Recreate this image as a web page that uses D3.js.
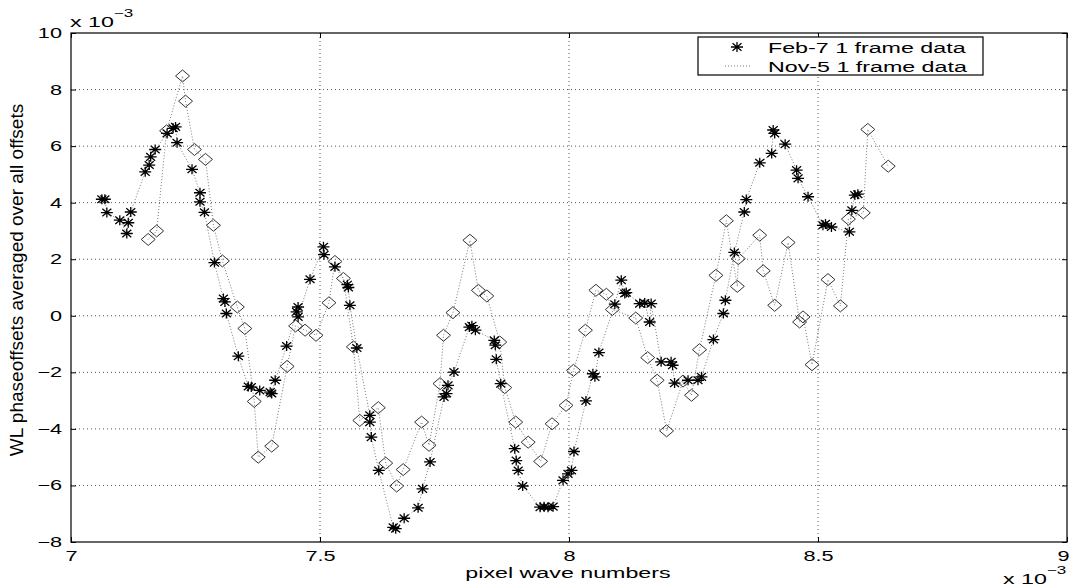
<!DOCTYPE html>
<html>
<head>
<meta charset="utf-8">
<script src="https://cdn.jsdelivr.net/npm/d3@7"></script>
<style>
    body { margin: 0; background: #fff; }
    svg { display: block; font-family: "Liberation Sans", Arial, sans-serif; }
</style>
</head>
<body>
<div id="chart"></div>
<script>
var xTicks = [7, 7.5, 8, 8.5, 9];
var yTicks = [-8, -6, -4, -2, 0, 2, 4, 6, 8, 10];
var seriesNames = ["Feb-7 1 frame data", "Nov-5 1 frame data"];

// Feb-7 (asterisks), x and y both in units of 1e-3
var febX = [7.062, 7.068, 7.072, 7.098, 7.112, 7.115, 7.120, 7.149, 7.157, 7.160,
    7.169, 7.193, 7.205, 7.210, 7.213, 7.243, 7.259, 7.259, 7.268, 7.288,
    7.306, 7.309, 7.312, 7.336, 7.356, 7.362, 7.379, 7.400, 7.403, 7.410,
    7.433, 7.453, 7.456, 7.456, 7.480, 7.507, 7.508, 7.530, 7.555, 7.557,
    7.560, 7.574, 7.600, 7.600, 7.603, 7.618, 7.647, 7.652, 7.669, 7.697,
    7.706, 7.721, 7.749, 7.754, 7.757, 7.769, 7.800, 7.805, 7.812, 7.850,
    7.852, 7.854, 7.863, 7.891, 7.894, 7.898, 7.907, 7.942, 7.950, 7.958,
    7.968, 7.988, 7.998, 8.005, 8.010, 8.034, 8.048, 8.052, 8.060, 8.092,
    8.105, 8.112, 8.115, 8.142, 8.152, 8.162, 8.165, 8.185, 8.205, 8.208,
    8.212, 8.239, 8.259, 8.266, 8.290, 8.310, 8.314, 8.332, 8.352, 8.356,
    8.383, 8.407, 8.410, 8.413, 8.434, 8.457, 8.460, 8.480, 8.510, 8.515,
    8.527, 8.563, 8.568, 8.574, 8.580];
var febY = [4.12, 4.12, 3.65, 3.38, 2.91, 3.29, 3.67, 5.09, 5.33, 5.62,
    5.88, 6.45, 6.63, 6.68, 6.12, 5.18, 4.35, 4.03, 3.66, 1.88,
    0.61, 0.49, 0.08, -1.43, -2.50, -2.52, -2.64, -2.70, -2.75, -2.28,
    -1.07, 0.14, 0.31, -0.04, 1.29, 2.44, 2.16, 1.73, 1.10, 1.00,
    0.37, -1.14, -3.52, -3.76, -4.29, -5.47, -7.48, -7.53, -7.16, -6.79,
    -6.12, -5.17, -2.87, -2.75, -2.46, -1.99, -0.40, -0.35, -0.51, -0.87,
    -1.04, -1.54, -2.40, -4.70, -5.12, -5.47, -6.02, -6.77, -6.75, -6.77,
    -6.75, -5.82, -5.59, -5.47, -4.80, -3.01, -2.05, -2.16, -1.30, 0.41,
    1.26, 0.79, 0.82, 0.43, 0.45, -0.22, 0.43, -1.63, -1.63, -1.75,
    -2.38, -2.28, -2.28, -2.16, -0.84, 0.08, 0.55, 2.24, 3.67, 4.11,
    5.41, 5.74, 6.57, 6.45, 6.07, 5.15, 4.86, 4.21, 3.20, 3.25,
    3.14, 2.97, 3.73, 4.27, 4.30];

// Nov-5 (diamonds)
var novX = [7.155, 7.172, 7.192, 7.224, 7.230, 7.248, 7.270, 7.286, 7.304, 7.334,
    7.349, 7.368, 7.376, 7.403, 7.434, 7.451, 7.470, 7.492, 7.518, 7.530,
    7.547, 7.567, 7.580, 7.617, 7.632, 7.654, 7.667, 7.704, 7.719, 7.741,
    7.748, 7.767, 7.801, 7.818, 7.835, 7.861, 7.871, 7.893, 7.918, 7.943,
    7.966, 7.994, 8.009, 8.033, 8.054, 8.075, 8.087, 8.134, 8.158, 8.177,
    8.196, 8.229, 8.246, 8.262, 8.295, 8.316, 8.338, 8.340, 8.383, 8.390,
    8.413, 8.440, 8.463, 8.470, 8.488, 8.520, 8.545, 8.561, 8.591, 8.600,
    8.641];
var novY = [2.70, 3.00, 6.54, 8.48, 7.59, 5.88, 5.53, 3.20, 1.94, 0.31,
    -0.45, -3.03, -5.00, -4.61, -1.79, -0.36, -0.51, -0.69, 0.46, 1.92,
    1.32, -1.10, -3.70, -3.25, -5.21, -6.02, -5.44, -3.76, -4.58, -2.40,
    -0.69, 0.11, 2.67, 0.90, 0.70, -0.93, -2.54, -3.76, -4.47, -5.15,
    -3.82, -3.17, -1.93, -0.51, 0.90, 0.76, 0.22, -0.08, -1.48, -2.28,
    -4.07, -2.31, -2.81, -1.20, 1.43, 3.36, 1.04, 2.02, 2.85, 1.59,
    0.37, 2.59, -0.22, -0.04, -1.73, 1.28, 0.35, 3.42, 3.64, 6.59,
    5.29];

var margin = { top: 33, right: 3, bottom: 46, left: 71 },
    width = 1070 - margin.left - margin.right,
    height = 588 - margin.top - margin.bottom;

//  the scanned figure was stretched sideways, so most text gets the same squash
var stretch = 1.55;

var starPath = "M-6,0H6M0,-5V5M-4.5,-3.8L4.5,3.8M-4.5,3.8L4.5,-3.8";
var diamondPath = "M0,-6L7,0L0,6L-7,0Z";

var xScale = d3.scaleLinear().domain([7, 9]).range([0, width]);
var yScale = d3.scaleLinear().domain([-8, 10]).range([height, 0]);

var svg = d3.select("#chart")
    .append("svg")
    .attr("width", width + margin.left + margin.right)
    .attr("height", height + margin.top + margin.bottom);

var plot = svg.append("g").attr("transform", "translate(" + margin.left + "," + margin.top + ")");

//  dotted grid
var grid = plot.append("g")
    .attr("stroke", "#555")
    .attr("stroke-width", 1)
    .attr("stroke-dasharray", "1,3");

grid.selectAll(".vgrid")
    .data(xTicks.slice(1, -1))
    .enter()
    .append("line")
    .attr("x1", function (d) { return xScale(d); })
    .attr("x2", function (d) { return xScale(d); })
    .attr("y1", 0)
    .attr("y2", height);

grid.selectAll(".hgrid")
    .data(yTicks.slice(1, -1))
    .enter()
    .append("line")
    .attr("x1", 0)
    .attr("x2", width)
    .attr("y1", function (d) { return yScale(d); })
    .attr("y2", function (d) { return yScale(d); });

//  axes, ticks point inward like matlab
var xAxis = d3.axisBottom(xScale).tickValues(xTicks).tickFormat(d3.format(""))
    .tickSize(-5).tickSizeOuter(0).tickPadding(9);
var yAxis = d3.axisLeft(yScale).tickValues(yTicks).tickFormat(d3.format(""))
    .tickSize(-5).tickSizeOuter(0).tickPadding(9);

var gx = plot.append("g")
    .attr("transform", "translate(0," + height + ")")
    .call(xAxis);
gx.selectAll("text")
    .attr("transform", "scale(" + stretch + ",1)");

//  the last label sits on the page edge, keep it inside
gx.selectAll(".tick")
    .filter(function (d) { return d === 9; })
    .select("text")
    .attr("text-anchor", "end")
    .attr("x", 2 / stretch);

var gy = plot.append("g").call(yAxis);
gy.selectAll("text")
    .attr("x", -9 / stretch)
    .attr("transform", "scale(" + stretch + ",1)");

plot.append("g")
    .call(d3.axisTop(xScale).tickValues(xTicks).tickFormat("").tickSize(-5).tickSizeOuter(0));
plot.append("g")
    .attr("transform", "translate(" + width + ",0)")
    .call(d3.axisRight(yScale).tickValues(yTicks).tickFormat("").tickSize(-5).tickSizeOuter(0));

plot.selectAll(".domain").remove();
plot.selectAll(".tick line").attr("stroke", "#000");
plot.selectAll(".tick text")
    .attr("fill", "#000")
    .attr("font-size", 14)
    .attr("font-family", "Liberation Sans, Arial, sans-serif");

plot.append("rect")
    .attr("width", width)
    .attr("height", height)
    .attr("fill", "none")
    .attr("stroke", "#000")
    .attr("stroke-width", 1.2);

//  series: dotted connecting line plus markers
var line = d3.line()
    .x(function (d) { return xScale(d[0]); })
    .y(function (d) { return yScale(d[1]); });

var febData = d3.zip(febX, febY);
var novData = d3.zip(novX, novY);

plot.append("path")
    .datum(febData)
    .attr("d", line)
    .attr("fill", "none")
    .attr("stroke", "#777")
    .attr("stroke-dasharray", "1,2");

plot.append("path")
    .datum(novData)
    .attr("d", line)
    .attr("fill", "none")
    .attr("stroke", "#777")
    .attr("stroke-dasharray", "1,2");

plot.selectAll(".nov")
    .data(novData)
    .enter()
    .append("path")
    .attr("class", "nov")
    .attr("d", diamondPath)
    .attr("transform", function (d) { return "translate(" + xScale(d[0]) + "," + yScale(d[1]) + ")"; })
    .attr("fill", "none")
    .attr("stroke", "#333")
    .attr("stroke-width", 1);

plot.selectAll(".feb")
    .data(febData)
    .enter()
    .append("path")
    .attr("class", "feb")
    .attr("d", starPath)
    .attr("transform", function (d) { return "translate(" + xScale(d[0]) + "," + yScale(d[1]) + ")"; })
    .attr("fill", "none")
    .attr("stroke", "#000")
    .attr("stroke-width", 1.3);

//  legend
var legend = svg.append("g");

legend.append("rect")
    .attr("x", 698)
    .attr("y", 37)
    .attr("width", 285)
    .attr("height", 38)
    .attr("fill", "#fff")
    .attr("stroke", "#000")
    .attr("stroke-width", 1.2);

legend.append("path")
    .attr("d", starPath)
    .attr("transform", "translate(737,47)")
    .attr("fill", "none")
    .attr("stroke", "#000")
    .attr("stroke-width", 1.3);

legend.append("line")
    .attr("x1", 725)
    .attr("x2", 752)
    .attr("y1", 66)
    .attr("y2", 66)
    .attr("stroke", "#777")
    .attr("stroke-dasharray", "1,2");

legend.selectAll(".legend-text")
    .data(seriesNames)
    .enter()
    .append("text")
    .attr("class", "legend-text")
    .attr("transform", function (d, i) { return "translate(768," + (53 + i * 19) + ") scale(" + stretch + ",1)"; })
    .attr("font-size", 15)
    .text(function (d) { return d; });

//  axis labels and the x 10^-3 multipliers
svg.append("text")
    .attr("transform", "translate(23,280) rotate(-90)")
    .attr("text-anchor", "middle")
    .attr("font-size", 19)
    .text("WL phaseoffsets averaged over all offsets");

svg.append("text")
    .attr("transform", "translate(568,578) scale(" + stretch + ",1)")
    .attr("text-anchor", "middle")
    .attr("font-size", 15)
    .text("pixel wave numbers");

var addMultiplier = function (x, y) {
    var t = svg.append("text")
        .attr("transform", "translate(" + x + "," + y + ") scale(" + stretch + ",1)")
        .attr("font-size", 15);
    t.append("tspan").text("x 10");
    t.append("tspan").attr("dy", -10).attr("font-size", 11).text("\u22123");
};

addMultiplier(70, 27);
addMultiplier(1003, 584);
</script>
</body>
</html>
